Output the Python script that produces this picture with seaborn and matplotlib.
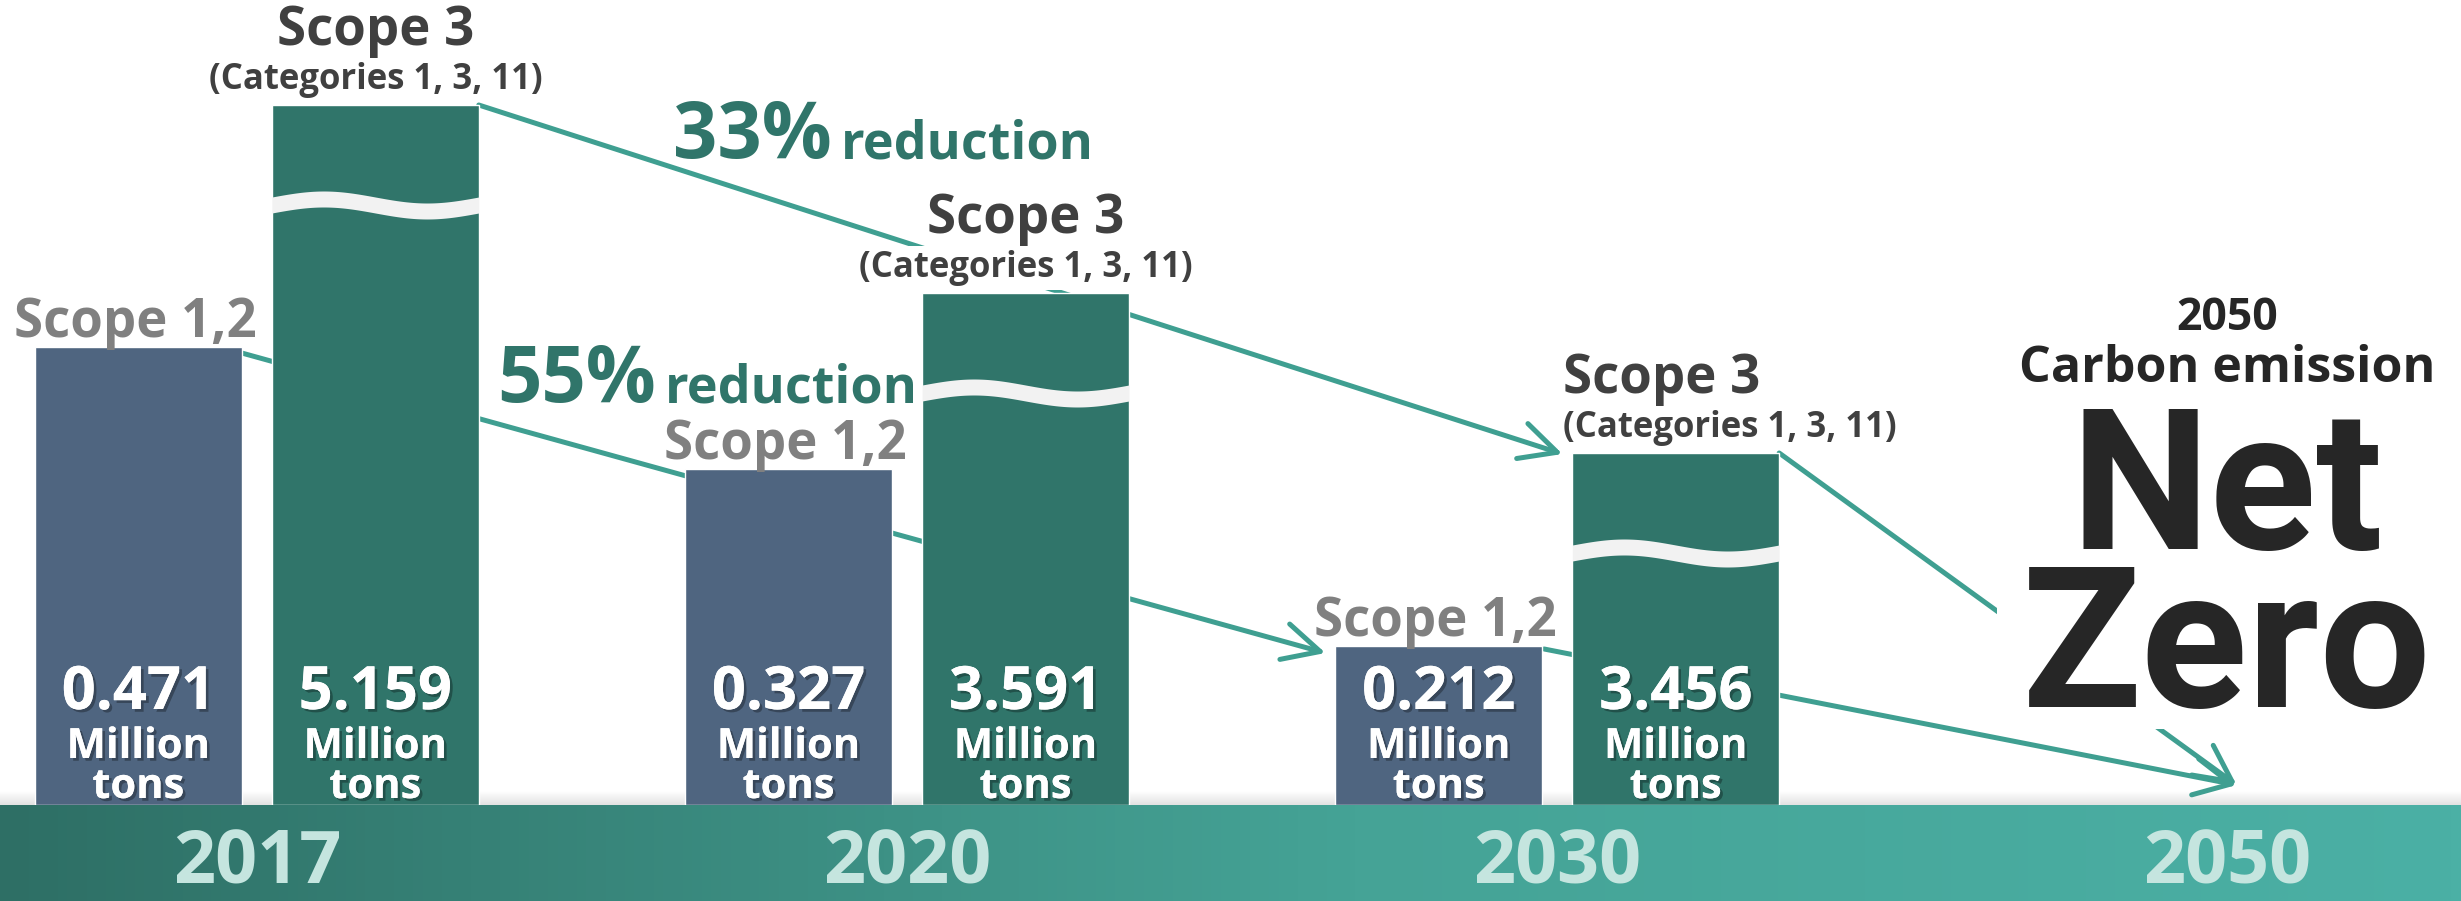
import numpy as np
import pandas as pd
import matplotlib
matplotlib.use('Agg')
import matplotlib.pyplot as plt
import matplotlib.patheffects as pe
from matplotlib.colors import LinearSegmentedColormap
from matplotlib.patches import Rectangle
import seaborn as sns

# data
years = ['2017', '2020', '2030']
scope12_values = ['0.471', '0.327', '0.212']
scope3_values = ['5.159', '3.591', '3.456']
# bar heights as drawn in the picture (broken axis, not to scale)
scope12_height = [4.58, 3.36, 1.59]
scope3_height = [7.00, 5.12, 3.52]
year_labels = ['2017', '2020', '2030', '2050']
reduction_scope3 = '33%'
reduction_scope12 = '55%'

sns.set_theme(style='white')
plt.rcParams['font.family'] = ['Open Sans', 'DejaVu Sans']

df = pd.DataFrame({
    'year': years * 2,
    'scope': ['Scope 1,2'] * len(years) + ['Scope 3'] * len(years),
    'height': scope12_height + scope3_height,
})

teal = '#3f9f91'
dark_teal = '#30756a'
slate = '#4f6580'

fig = plt.figure(figsize=(24.61, 9.01), dpi=100)
ax = fig.add_axes([0, 0, 1, 1])
sns.barplot(data=df, x='year', y='height', hue='scope', order=years,
            palette=[slate, dark_teal], width=0.729, gap=0.127,
            saturation=1, errorbar=None, legend=False, ax=ax, zorder=3)

x0, x1 = -0.395, 3.39
y0, y1 = -0.96, 8.05
nz_x = 3.03  # 2050 column

bars = sorted(ax.patches, key=lambda p: p.get_x())
s12_bars = bars[0::2]
s3_bars = bars[1::2]


def top_left(p):
    return np.array([p.get_x(), p.get_height()])


def top_right(p):
    return np.array([p.get_x() + p.get_width(), p.get_height()])


def center_x(p):
    return p.get_x() + p.get_width() / 2


# break marks on scope 3 bars
for p in s3_bars:
    xs = np.linspace(p.get_x(), p.get_x() + p.get_width(), 120)
    t = np.linspace(0, 1, 120)
    yc = p.get_height() - 1.0 + 0.06 * np.sin(2 * np.pi * t)
    ax.fill_between(xs, yc - 0.08, yc + 0.08, color='#f2f2f2', lw=0, zorder=3.5)

# arrows
def arrow(start, end):
    ax.annotate('', xy=end, xytext=start, zorder=1.5,
                arrowprops=dict(arrowstyle='->,head_length=1.2,head_width=0.6',
                                color=teal, lw=3.6, mutation_scale=22,
                                shrinkA=0, shrinkB=0, capstyle='round'))


arrow(top_right(s3_bars[0]), top_left(s3_bars[2]) + [-0.015, -0.01])
arrow(top_right(s12_bars[0]) + [0, -0.06], top_left(s12_bars[2]) + [-0.015, -0.07])
tip = np.array([nz_x + 0.015, 0.2])
arrow(top_right(s3_bars[2]), tip)
arrow(top_right(s12_bars[2]) + [0.003, -0.03], tip)

# white area behind Net Zero hiding the line
ax.add_patch(Rectangle((nz_x - 0.353, 0.76), 0.68, 3.34, fc='white', ec='none', zorder=2))

# scope labels
for p in s12_bars:
    ax.text(center_x(p) - 0.005, p.get_height() + 0.10, 'Scope 1,2', ha='center', va='baseline',
            fontsize=38, fontweight='bold', color='#808080', zorder=4)

for i, p in enumerate(s3_bars):
    if i < 2:
        x, ha = center_x(p), 'center'
    else:
        x, ha = p.get_x() - 0.015, 'left'
    ax.text(x, p.get_height() + 0.60, 'Scope 3', ha=ha, va='baseline',
            fontsize=38, fontweight='bold', color='#404040', zorder=4)
    ax.text(x, p.get_height() + 0.16, '(Categories 1, 3, 11)', ha=ha, va='baseline',
            fontsize=25, fontweight='bold', color='#404040', zorder=2.5,
            bbox=dict(boxstyle='square,pad=0.12', fc='white', ec='none'))

# values inside bars
shadow = [pe.withSimplePatchShadow(offset=(2, -2), shadow_rgbFace='black', alpha=0.3), pe.Normal()]
for group, vals in [(s12_bars, scope12_values), (s3_bars, scope3_values)]:
    for p, v in zip(group, vals):
        cx = center_x(p)
        ax.text(cx, 0.96, v, ha='center', va='baseline', fontsize=43,
                fontweight='bold', color='white', path_effects=shadow, zorder=4)
        ax.text(cx, 0.47, 'Million', ha='center', va='baseline', fontsize=30,
                fontweight='bold', color='white', path_effects=shadow, zorder=4)
        ax.text(cx, 0.07, 'tons', ha='center', va='baseline', fontsize=30,
                fontweight='bold', color='white', path_effects=shadow, zorder=4)

# reduction labels
ax.set_xlim(x0, x1)
ax.set_ylim(y0, y1)
fig.canvas.draw()
renderer = fig.canvas.get_renderer()
for pct, x, y in [(reduction_scope3, 0.64, 6.47), (reduction_scope12, 0.369, 4.03)]:
    t = ax.text(x, y, pct, ha='left', va='baseline', fontsize=56,
                fontweight='bold', color=dark_teal, zorder=4)
    bb = t.get_window_extent(renderer)
    xr = ax.transData.inverted().transform((bb.x1, bb.y0))[0]
    ax.text(xr + 0.014, y, 'reduction', ha='left', va='baseline', fontsize=37.5,
            fontweight='bold', color=dark_teal, zorder=4)

# net zero
ax.text(nz_x, 4.75, '2050', ha='center', va='baseline', fontsize=32,
        fontweight='bold', color='#262626', zorder=4)
ax.text(nz_x, 4.23, 'Carbon emission', ha='center', va='baseline', fontsize=36,
        fontweight='bold', color='#262626', zorder=4)
ax.text(nz_x, 0.98, 'Net\nZero', ha='center', va='baseline', fontsize=142,
        linespacing=0.80, multialignment='center', family=['Roboto', 'DejaVu Sans'],
        fontweight='bold', color='#262626', zorder=4)

# bottom band
band = LinearSegmentedColormap.from_list('band', [(0, '#2e6f65'), (0.55, '#45a396'), (1, '#4bb0a5')])
ax.imshow(np.linspace(0, 1, 512)[None, :], extent=(x0, x1, y0, 0), aspect='auto',
          cmap=band, zorder=5)
shade = LinearSegmentedColormap.from_list('shade', ['#e2e2e2', '#ffffff'])
ax.imshow(np.linspace(0, 1, 64)[:, None], extent=(x0, x1, 0, 0.14), origin='lower',
          aspect='auto', cmap=shade, zorder=1)

year_pos = list(range(len(years))) + [nz_x]
for pos, label in zip(year_pos, year_labels):
    ax.text(pos, -0.79, label, ha='center', va='baseline', fontsize=53,
            fontweight='bold', color='#c5e5df', zorder=6)

ax.set_xlim(x0, x1)
ax.set_ylim(y0, y1)
ax.axis('off')
fig.savefig('out.png', dpi=100, facecolor='white')
